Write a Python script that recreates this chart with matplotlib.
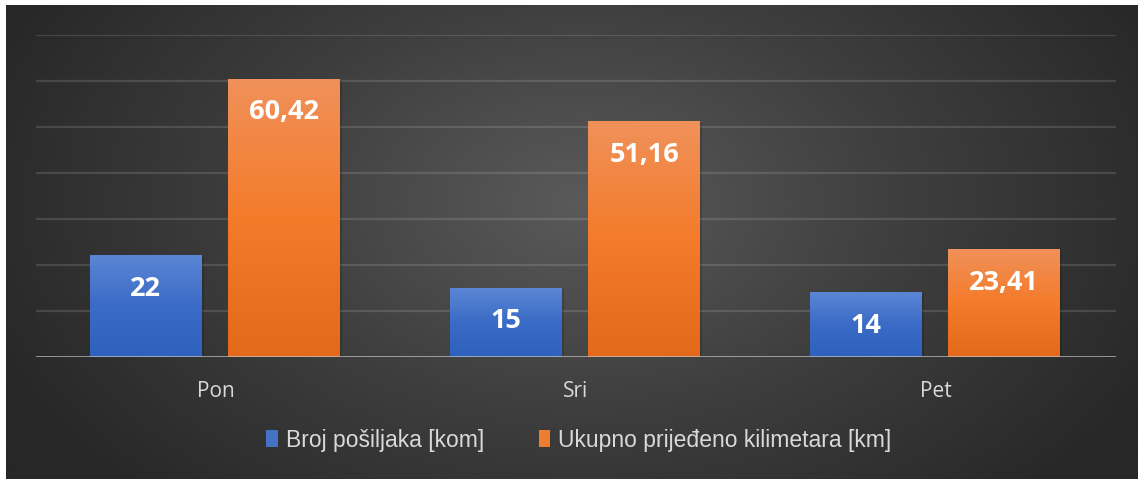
import numpy as np
import matplotlib.pyplot as plt
from matplotlib.colors import LinearSegmentedColormap
from matplotlib.patches import Patch

# podaci
dani = ['Pon', 'Sri', 'Pet']
posiljke = [22, 15, 14]
kilometri = [60.42, 51.16, 23.41]
oznake_posiljke = ['22', '15', '14']
oznake_km = ['60,42', '51,16', '23,41']
legenda = ['Broj pošiljaka [kom]', 'Ukupno prijeđeno kilimetara [km]']

W, H = 1138, 479
fig = plt.figure(figsize=(W / 100, H / 100), dpi=100, facecolor='white')

# tamna radijalna pozadina
bg = fig.add_axes([6 / W, 0, 1 - 6 / W, 1 - 5 / H], zorder=-10)
yy, xx = np.mgrid[0:480, 0:1140]
r = np.sqrt(((xx - 580) / 650) ** 2 + ((yy - 200) / 420) ** 2)
r = np.clip(r, 0, 1)
bg_cmap = LinearSegmentedColormap.from_list('bg', ['#5a5a5a', '#3e3e3e', '#272727'])
bg.imshow(r, cmap=bg_cmap, aspect='auto', extent=(0, 1, 0, 1), vmin=0, vmax=1)
bg.axis('off')

ax = fig.add_axes([36 / W, 1 - 357 / H, 1080 / W, (357 - 35) / H])
ax.patch.set_alpha(0)

x = np.arange(len(dani))
w = 0.31
gap = 0.075
blue_cmap = LinearSegmentedColormap.from_list('b', ['#2f62bc', '#3a6bc6', '#5c86d5'])
orange_cmap = LinearSegmentedColormap.from_list('o', ['#e3691b', '#f47b2a', '#f0915a'])

grad = np.linspace(0, 1, 256).reshape(-1, 1)


def gradient_bars(xs, vals, cmap):
    bars = ax.bar(xs, vals, w, color='none', zorder=3)
    for b in bars:
        x0, h = b.get_x(), b.get_height()
        # sjena
        ax.bar(x0 + w / 2 + 0.006, h, w, bottom=-0.2, color='black', alpha=0.15, zorder=2)
        ax.imshow(grad, cmap=cmap, origin='lower', aspect='auto',
                  extent=(x0, x0 + w, 0, h), zorder=3)
    return bars


b1 = gradient_bars(x - w / 2 - gap / 2 - 0.003, posiljke, blue_cmap)
b2 = gradient_bars(x + w / 2 + gap / 2 - 0.003, kilometri, orange_cmap)

for bars, labels in ((b1, oznake_posiljke), (b2, oznake_km)):
    for b, t in zip(bars, labels):
        ax.annotate(t, (b.get_x() + w / 2, b.get_height()), xytext=(0, -24),
                    textcoords='offset points', ha='center', va='center',
                    color='white', fontsize=19.5, fontweight='bold',
                    family='Open Sans', zorder=5)

ax.set_xlim(-0.5, 2.5)
ax.set_ylim(0, 70)
ax.set_yticks(np.arange(10, 71, 10))
ax.yaxis.grid(True, color='white', alpha=0.13, lw=1.6)
ax.set_axisbelow(True)
ax.axhline(0, color='#c8c8c8', alpha=0.75, lw=2, zorder=4)

ax.set_xticks(x)
ax.set_xticklabels(dani, family='Open Sans', fontsize=15, color='#d9d9d9')
ax.tick_params(axis='x', length=0, pad=17)
ax.tick_params(axis='y', length=0, labelleft=False)
for s in ax.spines.values():
    s.set_visible(False)

handles = [Patch(facecolor='#4472c4'), Patch(facecolor='#ed7d31')]
fig.legend(handles, legenda, loc='center', bbox_to_anchor=(579 / W, 1 - 440 / H),
           ncol=2, frameon=False, labelcolor='#d9d9d9',
           handlelength=0.5, handleheight=0.75, handletextpad=0.35,
           columnspacing=2.4, prop={'family': 'Liberation Sans', 'size': 16.5})

fig.savefig('out.png', dpi=100, facecolor='white')
